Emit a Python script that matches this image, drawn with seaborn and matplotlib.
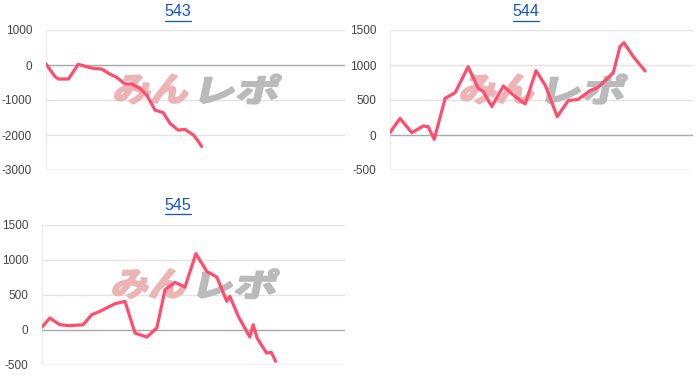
import matplotlib
matplotlib.use("Agg")
import matplotlib.pyplot as plt
from matplotlib.lines import Line2D
from matplotlib.textpath import TextPath
from matplotlib.patches import PathPatch
from matplotlib.font_manager import FontProperties
from matplotlib.transforms import Affine2D
import seaborn as sns
import pandas as pd

# ---- data (x = progress along the fixed horizontal domain 0..100) ----
titles = ["543", "544", "545"]

x_543 = [0, 3.0, 4.1, 7.5, 10.8, 13.6, 15.8, 18.6, 21.4, 23.6, 26.4, 28.7, 31.4,
         33.7, 36.5, 39.2, 41.5, 44.2, 46.5, 49.3, 50.6, 52.1]
y_543 = [30, -330, -400, -400, 20, -50, -95, -115, -260, -350, -540, -540, -670,
         -860, -1290, -1360, -1670, -1860, -1840, -2000, -2140, -2330]

x_544 = [0, 3.3, 7.2, 11.0, 12.6, 14.6, 18.2, 21.5, 25.8, 29.1, 30.8, 33.6, 37.4,
         40.7, 44.6, 48.2, 51.2, 55.2, 58.8, 62.1, 66.0, 68.7, 73.7, 75.9, 77.2,
         80.3, 84.2]
y_544 = [33, 238, 33, 129, 119, -62, 524, 605, 976, 667, 619, 405, 700, 571, 443,
         919, 714, 262, 490, 510, 633, 681, 890, 1261, 1319, 1119, 914]

x_545 = [0, 2.6, 5.9, 9.2, 13.6, 16.4, 19.1, 24.1, 27.4, 30.7, 34.6, 37.9, 40.6,
         43.9, 47.2, 50.8, 54.4, 57.7, 61.0, 62.0, 64.8, 68.6, 69.7, 71.0, 74.1,
         75.7, 77.1]
y_545 = [38, 167, 71, 57, 71, 214, 262, 371, 405, -48, -105, 24, 571, 676, 610,
         1086, 833, 752, 405, 476, 190, -105, 71, -119, -333, -324, -452]

yticks_543 = [-3000, -2000, -1000, 0, 1000]
yticks_5xx = [-500, 0, 500, 1000, 1500]

watermark_parts = ["みん", "レポ"]

sns.set_style("white")
plt.rcParams["font.family"] = ["Liberation Sans", "DejaVu Sans"]
plt.rcParams["axes.unicode_minus"] = False

W, H = 700, 388
fig = plt.figure(figsize=(W / 100, H / 100), dpi=100)

LINE = "#ff4d6d"
specs = [
    (titles[0], x_543, y_543, yticks_543, (46, 30, 299, 140), (178, 12)),
    (titles[1], x_544, y_544, yticks_5xx, (390, 30, 303, 140), (526, 12)),
    (titles[2], x_545, y_545, yticks_5xx, (42, 224.7, 303, 140), (178, 205)),
]

wm_prop = FontProperties(family="Noto Sans CJK JP", weight="bold")


def add_watermark(ax, left_px, top_px, w_px):
    """Stretched, slanted logo text placed in pixel space (display coords)."""
    cx = left_px + w_px / 2.0
    boxes = [(cx - 82, 80, "#ecb4b5"), (cx + 4, 84, "#bababa")]
    y_top, y_bot = 74.5, 103.5
    shift = top_px - 30
    for text, (x0, bw, col) in zip(watermark_parts, boxes):
        tp = TextPath((0, 0), text, size=40, prop=wm_prop)
        ext = tp.get_extents()
        bh = y_bot - y_top
        sx = (bw - 8) / ext.width
        sy = bh / ext.height
        tr = (Affine2D()
              .translate(-ext.x0, -ext.y0)
              .scale(sx, sy)
              .skew_deg(12, 0)
              .translate(x0, H - (y_bot + shift)))
        patch = PathPatch(tp, transform=tr, facecolor=col, edgecolor=col,
                          linewidth=1.6, joinstyle="round", zorder=1)
        ax.add_artist(patch)


title_texts = []
for title, xs, ys, yt, (lp, tp_, wp, hp), tpos in specs:
    ax = fig.add_axes([lp / W, 1 - (tp_ + hp) / H, wp / W, hp / H])
    df = pd.DataFrame({"x": xs, "y": ys})
    add_watermark(ax, lp, tp_, wp)
    sns.lineplot(data=df, x="x", y="y", ax=ax, color=LINE, linewidth=2.3,
                 zorder=3)
    ax.set_xlim(0, 100)
    ax.set_ylim(yt[0], yt[-1])
    ax.set_yticks(yt)
    ax.set_yticklabels([str(v) for v in yt])
    ax.set_xticks([])
    ax.set_xlabel("")
    ax.set_ylabel("")
    for v in yt:
        if v == 0:
            ax.axhline(v, color="#a8a8a8", linewidth=1.0, zorder=2)
        elif v == yt[0]:
            ax.axhline(v, color="#c8c8c8", linewidth=1.0, zorder=2)
        else:
            ax.axhline(v, color="#e3e3e3", linewidth=1.0, zorder=0)
    ax.axvline(0, color="#ececec", linewidth=1.0, zorder=0)
    for s in ax.spines.values():
        s.set_visible(False)
    ax.tick_params(axis="y", length=0, pad=10, labelsize=8.5, labelcolor="#444444")
    ax.patch.set_alpha(0)
    t = fig.text(tpos[0] / W, 1 - tpos[1] / H, title, ha="center",
                 va="center", fontsize=11.5, color="#1155cc")
    title_texts.append(t)

fig.canvas.draw()
renderer = fig.canvas.get_renderer()
for t in title_texts:
    bb = t.get_window_extent(renderer).transformed(fig.transFigure.inverted())
    yline = bb.y0 - 0.003
    fig.add_artist(Line2D([bb.x0, bb.x1], [yline, yline], transform=fig.transFigure,
                          color="#1155cc", linewidth=0.9))

fig.savefig("out.png", dpi=100)
